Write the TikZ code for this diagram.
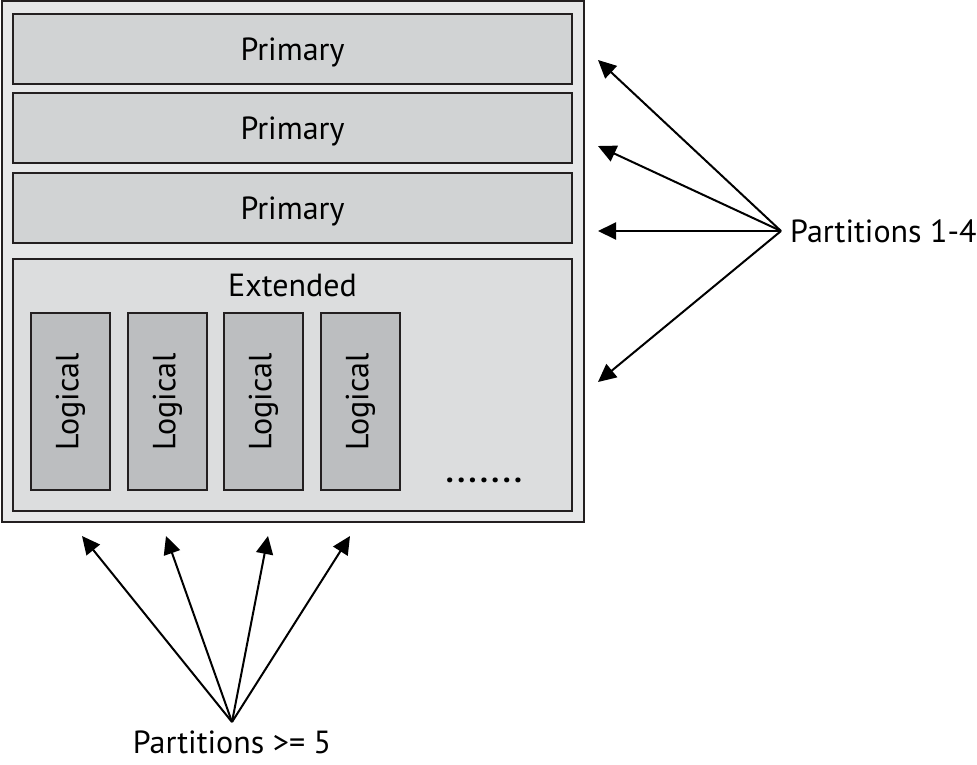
\documentclass[tikz,border=0pt]{standalone}
\usepackage{fontspec}
\setmainfont{PT Sans}
\usetikzlibrary{positioning, arrows.meta}

\definecolor{edge}{HTML}{231F20}
\definecolor{diskgray}{HTML}{E6E7E8}
\definecolor{primgray}{HTML}{D1D3D4}
\definecolor{extgray}{HTML}{DCDDDE}
\definecolor{loggray}{HTML}{BCBEC0}

\begin{document}
\begin{tikzpicture} [
            x=1pt, y=-1pt,
            font=\fontsize{32}{38}\selectfont,
            caps/.style     = { text height=22pt, text depth=0pt },
            disk/.style     = { rectangle, draw=edge, line width=2pt, fill=diskgray,
                                minimum width=582pt, minimum height=521pt, inner sep=0pt },
            primary/.style  = { rectangle, draw=edge, line width=2pt, fill=primgray,
                                minimum width=559pt, minimum height=70pt, caps },
            extended/.style = { rectangle, draw=edge, line width=2pt, fill=extgray,
                                minimum width=559pt, minimum height=252pt },
            logical/.style  = { rectangle, draw=edge, line width=2pt, fill=loggray,
                                rotate=90, minimum width=177pt, minimum height=79pt },
            tag/.style      = { inner sep=9pt },
            line/.style     = { draw=black, line width=2pt,
                                -{Triangle[length=18pt, width=17pt]} },
          ]
  \useasboundingbox (0,0) rectangle (977,764);

  % disk with its partitions
  \node (disk) [disk] at (292.5,261.5) {};
  \node (pri1) [primary] at (292.5,49) {Primary};
  \node (pri2) [primary, below=7pt of pri1] {Primary};
  \node (pri3) [primary, below=8pt of pri2] {Primary};
  \node (ext) [extended, below=14pt of pri3] {};
  \node (extlbl) [caps] at (292.5,285) {Extended};
  \foreach \n/\x in {1/70.5, 2/167.5, 3/263.5, 4/360.5}
    \node (log\n) [logical] at (\x,401.5) {Logical};
  \node (more) [anchor=base] at (484,482) {\textbf{.\kern3.5pt.\kern3.5pt.\kern3.5pt.\kern3.5pt.\kern3.5pt.\kern3.5pt.}};

  % partitions 1-4
  \node (p14) [tag, anchor=west] at (781,231) {Partitions 1-4};
  \coordinate (r1) at (598,60);
  \coordinate (r2) at (598,146);
  \coordinate (r3) at (598,231);
  \coordinate (r4) at (598,382);
  \foreach \t in {r1,r2,r3,r4}
    \draw [line] (p14.west) -- (\t);

  % partitions >= 5
  \node (p5) [tag, anchor=north] at (232,722) {Partitions >= 5};
  \coordinate (b1) at (82,536);
  \coordinate (b2) at (166,536);
  \coordinate (b3) at (268,536);
  \coordinate (b4) at (350,536);
  \foreach \t in {b1,b2,b3,b4}
    \draw [line] (p5.north) -- (\t);
\end{tikzpicture}
\end{document}
